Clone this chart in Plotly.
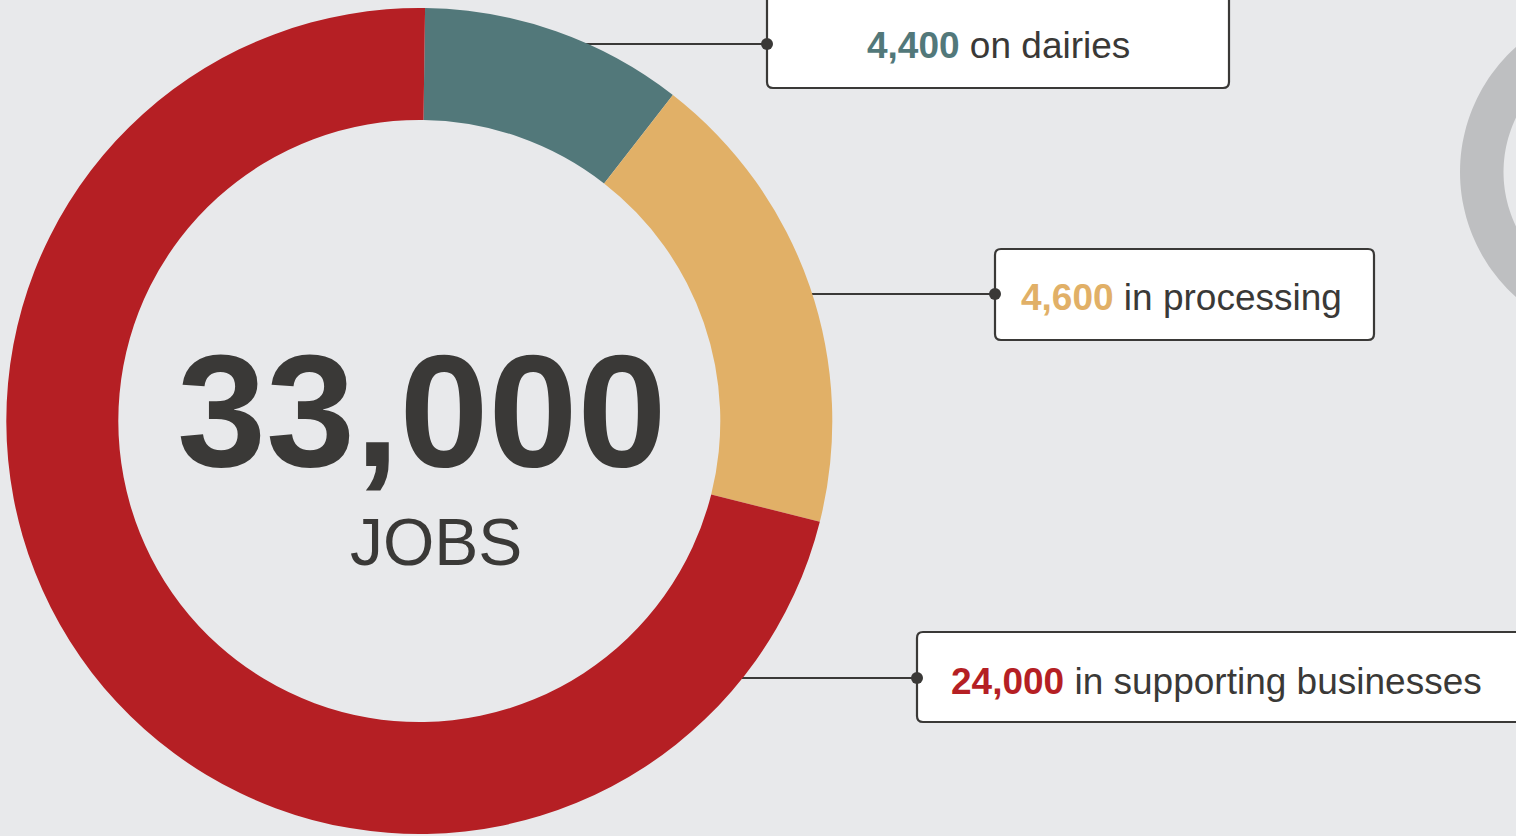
import numpy as np
import plotly.graph_objects as go

# ---- data ----
categories = ["on dairies", "in processing", "in supporting businesses"]
jobs = [4400, 4600, 24000]
jobs_labels = ["4,400", "4,600", "24,000"]
# share of the ring each slice occupies (percent)
arc_share_pct = [10.3, 18.4, 71.3]
total_label = "33,000"
total_unit = "JOBS"

colors = ["#52787a", "#e1b067", "#b51f24"]
BG = "#e8e9eb"
TEXT = "#3a3937"
FONT = "Liberation Sans, Arial, sans-serif"

W, H = 1516, 836
cx, cy, R = 419.3, 421.0, 413.0

fig = go.Figure()

# pixel-space helper axes
fig.update_layout(
    width=W, height=H,
    margin=dict(l=0, r=0, t=0, b=0),
    paper_bgcolor=BG, plot_bgcolor=BG,
    showlegend=False,
    xaxis=dict(range=[0, W], visible=False, fixedrange=True, domain=[0, 1]),
    yaxis=dict(range=[H, 0], visible=False, fixedrange=True, domain=[0, 1]),
    hovermode=False,
)

# ---- grey ring of the neighbouring chart (partially visible) ----
gcx, gcy, gR, gr = 1627.5, 172.0, 167.5, 124.0
t = np.linspace(0, 2 * np.pi, 181)
outer = [(gcx + gR * np.cos(a), gcy + gR * np.sin(a)) for a in t]
inner = [(gcx + gr * np.cos(a), gcy + gr * np.sin(a)) for a in t[::-1]]
path = "M " + " L ".join(f"{x:.1f},{y:.1f}" for x, y in outer) + " Z M " + \
       " L ".join(f"{x:.1f},{y:.1f}" for x, y in inner) + " Z"
shapes = [dict(type="path", xref="x", yref="y", path=path,
               fillcolor="#bebfc1", line=dict(width=0), layer="below")]


def rounded_rect(x0, y0, x1, y1, r):
    return (f"M {x0+r},{y0} L {x1-r},{y0} Q {x1},{y0} {x1},{y0+r} "
            f"L {x1},{y1-r} Q {x1},{y1} {x1-r},{y1} L {x0+r},{y1} "
            f"Q {x0},{y1} {x0},{y1-r} L {x0},{y0+r} Q {x0},{y0} {x0+r},{y0} Z")


# label boxes: (x0, y0, x1, y1), connector start x, text anchor
boxes = [
    (767, -6, 1229, 88),
    (995, 249, 1374, 340),
    (917, 632, 1530, 722),
]
line_y = [44, 294, 678]
line_x0 = [580, 812, 742]
text_pos = [(998, 45, "center"), (1019, 297, "left"), (949, 681, "left")]

for (x0, y0, x1, y1) in boxes:
    shapes.append(dict(type="path", xref="x", yref="y",
                       path=rounded_rect(x0, y0, x1, y1, 6),
                       fillcolor="white", line=dict(color=TEXT, width=2.2),
                       layer="below"))

# connector lines and dots
for i in range(3):
    fig.add_trace(go.Scatter(x=[line_x0[i], boxes[i][0]], y=[line_y[i], line_y[i]],
                             mode="lines", line=dict(color=TEXT, width=2),
                             hoverinfo="skip"))
fig.add_trace(go.Scatter(x=[b[0] for b in boxes], y=line_y, mode="markers",
                         marker=dict(color=TEXT, size=12), hoverinfo="skip"))

# ---- donut ----
fig.add_trace(go.Pie(
    labels=categories, values=arc_share_pct,
    marker=dict(colors=colors, line=dict(width=0)),
    hole=301 / 413, sort=False, direction="clockwise", rotation=0.8,
    textinfo="none", hoverinfo="skip",
    domain=dict(x=[(cx - R) / W, (cx + R) / W],
                y=[(H - cy - R) / H, (H - cy + R) / H]),
))

annotations = []
for i in range(3):
    x, y, anchor = text_pos[i]
    annotations.append(dict(
        x=x, y=y, xref="x", yref="y", xanchor=anchor, yanchor="middle",
        showarrow=False,
        text=f"<b><span style='color:{colors[i]}'>{jobs_labels[i]}</span></b> {categories[i]}",
        font=dict(family=FONT, size=37, color=TEXT)))

annotations.append(dict(x=421, y=410, xref="x", yref="y", xanchor="center",
                        yanchor="middle", showarrow=False,
                        text=f"<b>{total_label}</b>",
                        font=dict(family=FONT, size=160, color=TEXT)))
annotations.append(dict(x=436, y=542, xref="x", yref="y", xanchor="center",
                        yanchor="middle", showarrow=False, text=total_unit,
                        font=dict(family=FONT, size=66, color=TEXT)))

fig.update_layout(shapes=shapes, annotations=annotations)
fig.write_html(
    "out.html",
    config={"displayModeBar": False},
    post_script="document.body.style.margin='0';document.body.style.overflow='hidden';"
                f"document.body.style.background='{BG}';",
)
